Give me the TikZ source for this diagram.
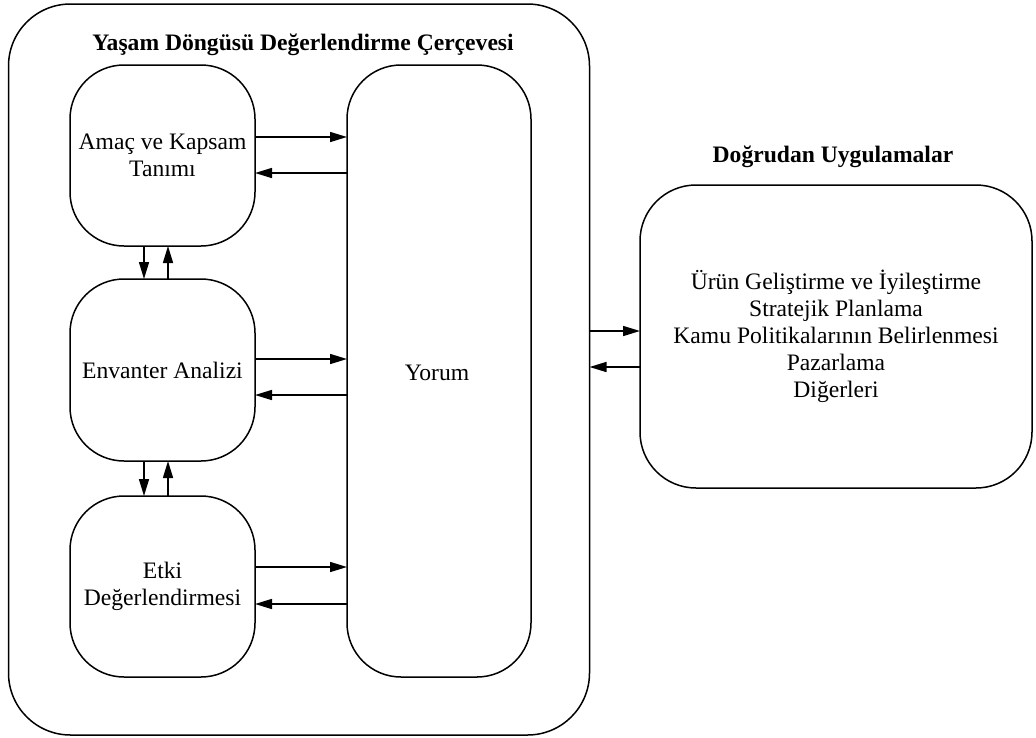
\documentclass[tikz,border=0pt]{standalone}
\usepackage{fontspec}
\setmainfont{Liberation Serif}
\usetikzlibrary{arrows.meta}
\begin{document}
\begin{tikzpicture}[x=1pt,y=-1pt,
  every node/.style={inner sep=0pt,outer sep=0pt},
  txt/.style={font=\fontsize{23.6}{27}\selectfont},
  box/.style={draw,line width=1.5pt,rounded corners=#1,align=center,txt},
  box/.default=54pt,
  heading/.style={font=\fontsize{23.6}{27}\selectfont\bfseries},
  arr/.style={line width=1.5pt,-{Triangle[length=17pt,width=10pt]}}]
\useasboundingbox (0,0) rectangle (1036,737);

% framework frame and its title
\node[box=62pt,minimum width=581pt,minimum height=731pt] (frame) at (299,369.5) {};
\node[heading] (ftitle) at (303,45) {Yaşam Döngüsü Değerlendirme Çerçevesi};

% phase boxes
\node[box,minimum width=185pt,minimum height=181pt] (amac) at (162.5,155.5)
  {Amaç ve Kapsam\\Tanımı};
\node[box,minimum width=185pt,minimum height=182pt] (envanter) at (162.5,370)
  {Envanter Analizi};
\node[box,minimum width=185pt,minimum height=181pt] (etki) at (162.5,586.5)
  {Etki\\Değerlendirmesi};
\node[box,minimum width=184pt,minimum height=612pt] (yorum) at (439,371) {};
\node[txt] (yorumtxt) at (437,373) {Yorum};

% applications
\node[heading] (atitle) at (833,157) {Doğrudan Uygulamalar};
\node[box=56pt,minimum width=392pt,minimum height=303pt] (uyg) at (836,336.5)
  {Ürün Geliştirme ve İyileştirme\\Stratejik Planlama\\Kamu Politikalarının Belirlenmesi\\Pazarlama\\Diğerleri};

% phases <-> interpretation
\draw[arr] (amac.east |- 0,137) -- (yorum.west |- 0,137);
\draw[arr] (yorum.west |- 0,173) -- (amac.east |- 0,173);
\draw[arr] (envanter.east |- 0,359) -- (yorum.west |- 0,359);
\draw[arr] (yorum.west |- 0,395) -- (envanter.east |- 0,395);
\draw[arr] (etki.east |- 0,567) -- (yorum.west |- 0,567);
\draw[arr] (yorum.west |- 0,604) -- (etki.east |- 0,604);

% between phases
\draw[arr] (amac.south -| 144,0) -- (envanter.north -| 144,0);
\draw[arr] (envanter.north -| 168,0) -- (amac.south -| 168,0);
\draw[arr] (envanter.south -| 144,0) -- (etki.north -| 144,0);
\draw[arr] (etki.north -| 168,0) -- (envanter.south -| 168,0);

% framework <-> applications
\draw[arr] (frame.east |- 0,331) -- (uyg.west |- 0,331);
\draw[arr] (uyg.west |- 0,367) -- (frame.east |- 0,367);
\end{tikzpicture}
\end{document}
